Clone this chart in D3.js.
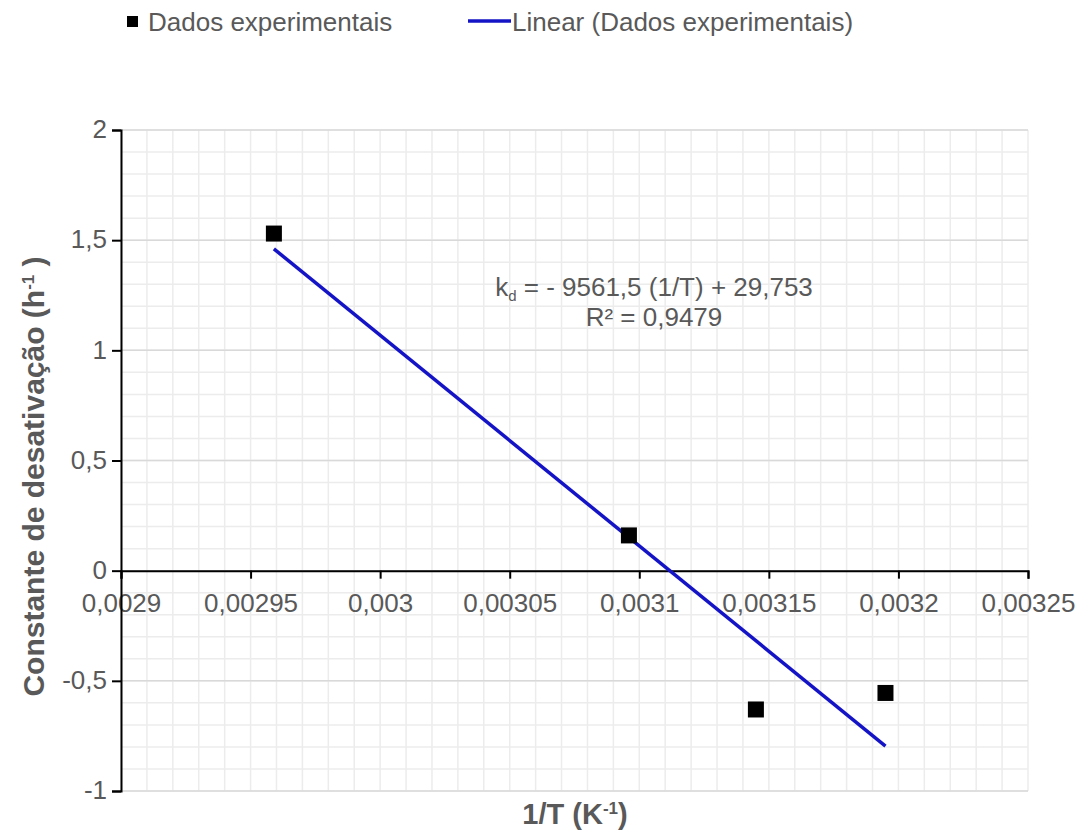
<!DOCTYPE html>
<html>
<head>
<meta charset="utf-8">
<script src="https://cdn.jsdelivr.net/npm/d3@7"></script>
<style>
  body { margin: 0; background: #fff; }
  svg text { font-family: "Liberation Sans", Arial, sans-serif; }
</style>
</head>
<body>
<svg id="chart" width="1088" height="832"></svg>
<script>
// data
const invT = [0.002959, 0.003096, 0.003145, 0.003195];
const kd = [1.53, 0.16, -0.63, -0.555];
const xTicks = [0.0029, 0.00295, 0.003, 0.00305, 0.0031, 0.00315, 0.0032, 0.00325];
const yTicks = [-1, -0.5, 0, 0.5, 1, 1.5, 2];
const fitSlope = -9561.5;
const fitIntercept = 29.753;
const eqLines = ["= - 9561,5 (1/T) + 29,753", "R² = 0,9479"];

const svg = d3.select("#chart");
const grey = "#595959";

const plotL = 121, plotR = 1028, plotT = 130, plotB = 791;

const x = d3.scaleLinear().domain([0.0029, 0.00325]).range([plotL, plotR]);
const y = d3.scaleLinear().domain([-1, 2]).range([plotB, plotT]);

const fmt = v => String(+v.toPrecision(6)).replace(".", ",");

// minor grid
const grid = svg.append("g");
const xMinor = d3.range(0, 36).map(i => 0.0029 + i * 0.00001);
const yMinor = d3.range(0, 31).map(i => -1 + i * 0.1);

grid.selectAll(".vx")
    .data(xMinor)
    .join("line")
    .attr("x1", d => x(d)).attr("x2", d => x(d))
    .attr("y1", plotT).attr("y2", plotB)
    .attr("stroke", "#ececec")
    .attr("stroke-width", 1.5);

grid.selectAll(".hy")
    .data(yMinor)
    .join("line")
    .attr("x1", plotL).attr("x2", plotR)
    .attr("y1", d => y(d)).attr("y2", d => y(d))
    .attr("stroke", "#ececec")
    .attr("stroke-width", 1.5);

grid.selectAll(".hmaj")
    .data(yTicks)
    .join("line")
    .attr("x1", plotL).attr("x2", plotR)
    .attr("y1", d => y(d)).attr("y2", d => y(d))
    .attr("stroke", "#d9d9d9")
    .attr("stroke-width", 1.5);

// axes
const xAxis = d3.axisBottom(x).tickValues(xTicks).tickSize(8).tickFormat(fmt);
const yAxis = d3.axisLeft(y).tickValues(yTicks).tickSize(9).tickFormat(fmt);

const gx = svg.append("g").attr("transform", `translate(0,${y(0)})`).call(xAxis);
const gy = svg.append("g").attr("transform", `translate(${plotL},0)`).call(yAxis);

[gx, gy].forEach(g => {
    g.select(".domain").attr("stroke", "#000").attr("stroke-width", 2);
    g.selectAll(".tick line").attr("stroke", "#000").attr("stroke-width", 2);
    g.selectAll(".tick text")
        .attr("fill", grey)
        .style("font-size", "26px");
});
gx.selectAll(".tick text").attr("y", 23);
gy.selectAll(".tick text").attr("x", -14).attr("dy", "0.3em");

// trendline
const xs = d3.extent(invT);
const line = d3.line().x(d => x(d)).y(d => y(fitSlope * d + fitIntercept));
svg.append("path")
    .datum(xs)
    .attr("d", line)
    .attr("fill", "none")
    .attr("stroke", "#1414c6")
    .attr("stroke-width", 3.5);

// points
const size = 16;
svg.selectAll(".pt")
    .data(invT)
    .join("rect")
    .attr("x", (d) => x(d) - size / 2)
    .attr("y", (d, i) => y(kd[i]) - size / 2)
    .attr("width", size)
    .attr("height", size)
    .attr("fill", "#000");

// equation
const eq = svg.append("text")
    .attr("x", 654).attr("y", 296)
    .attr("text-anchor", "middle")
    .attr("fill", grey)
    .style("font-size", "26px");
eq.append("tspan").text("k");
eq.append("tspan").attr("dy", 5).style("font-size", "15px").text("d");
eq.append("tspan").attr("dy", -5).text(" " + eqLines[0]);

svg.append("text")
    .attr("x", 654).attr("y", 326)
    .attr("text-anchor", "middle")
    .attr("fill", grey)
    .style("font-size", "26px")
    .text(eqLines[1]);

// axis titles
const yt = svg.append("text")
    .attr("transform", `translate(44,${(plotT + plotB) / 2 + 16}) rotate(-90)`)
    .attr("text-anchor", "middle")
    .attr("fill", grey)
    .style("font-size", "30px")
    .style("font-weight", "bold");
yt.append("tspan").text("Constante de desativação (h");
yt.append("tspan").attr("dy", -10).style("font-size", "17px").text("-1");
yt.append("tspan").attr("dy", 10).text(" )");

const xt = svg.append("text")
    .attr("x", 575).attr("y", 824)
    .attr("text-anchor", "middle")
    .attr("fill", grey)
    .style("font-size", "29px")
    .style("font-weight", "bold");
xt.append("tspan").text("1/T (K");
xt.append("tspan").attr("dy", -10).style("font-size", "17px").text("-1");
xt.append("tspan").attr("dy", 10).text(")");

// legend
const lg = svg.append("g");
lg.append("rect").attr("x", 127).attr("y", 16).attr("width", 11).attr("height", 11).attr("fill", "#000");
lg.append("text").attr("x", 148).attr("y", 31).attr("fill", grey).style("font-size", "26px").text("Dados experimentais");
lg.append("line").attr("x1", 468).attr("x2", 511).attr("y1", 21).attr("y2", 21)
    .attr("stroke", "#1414c6").attr("stroke-width", 3.5);
lg.append("text").attr("x", 512).attr("y", 31).attr("fill", grey).style("font-size", "26px").text("Linear (Dados experimentais)");
</script>
</body>
</html>
